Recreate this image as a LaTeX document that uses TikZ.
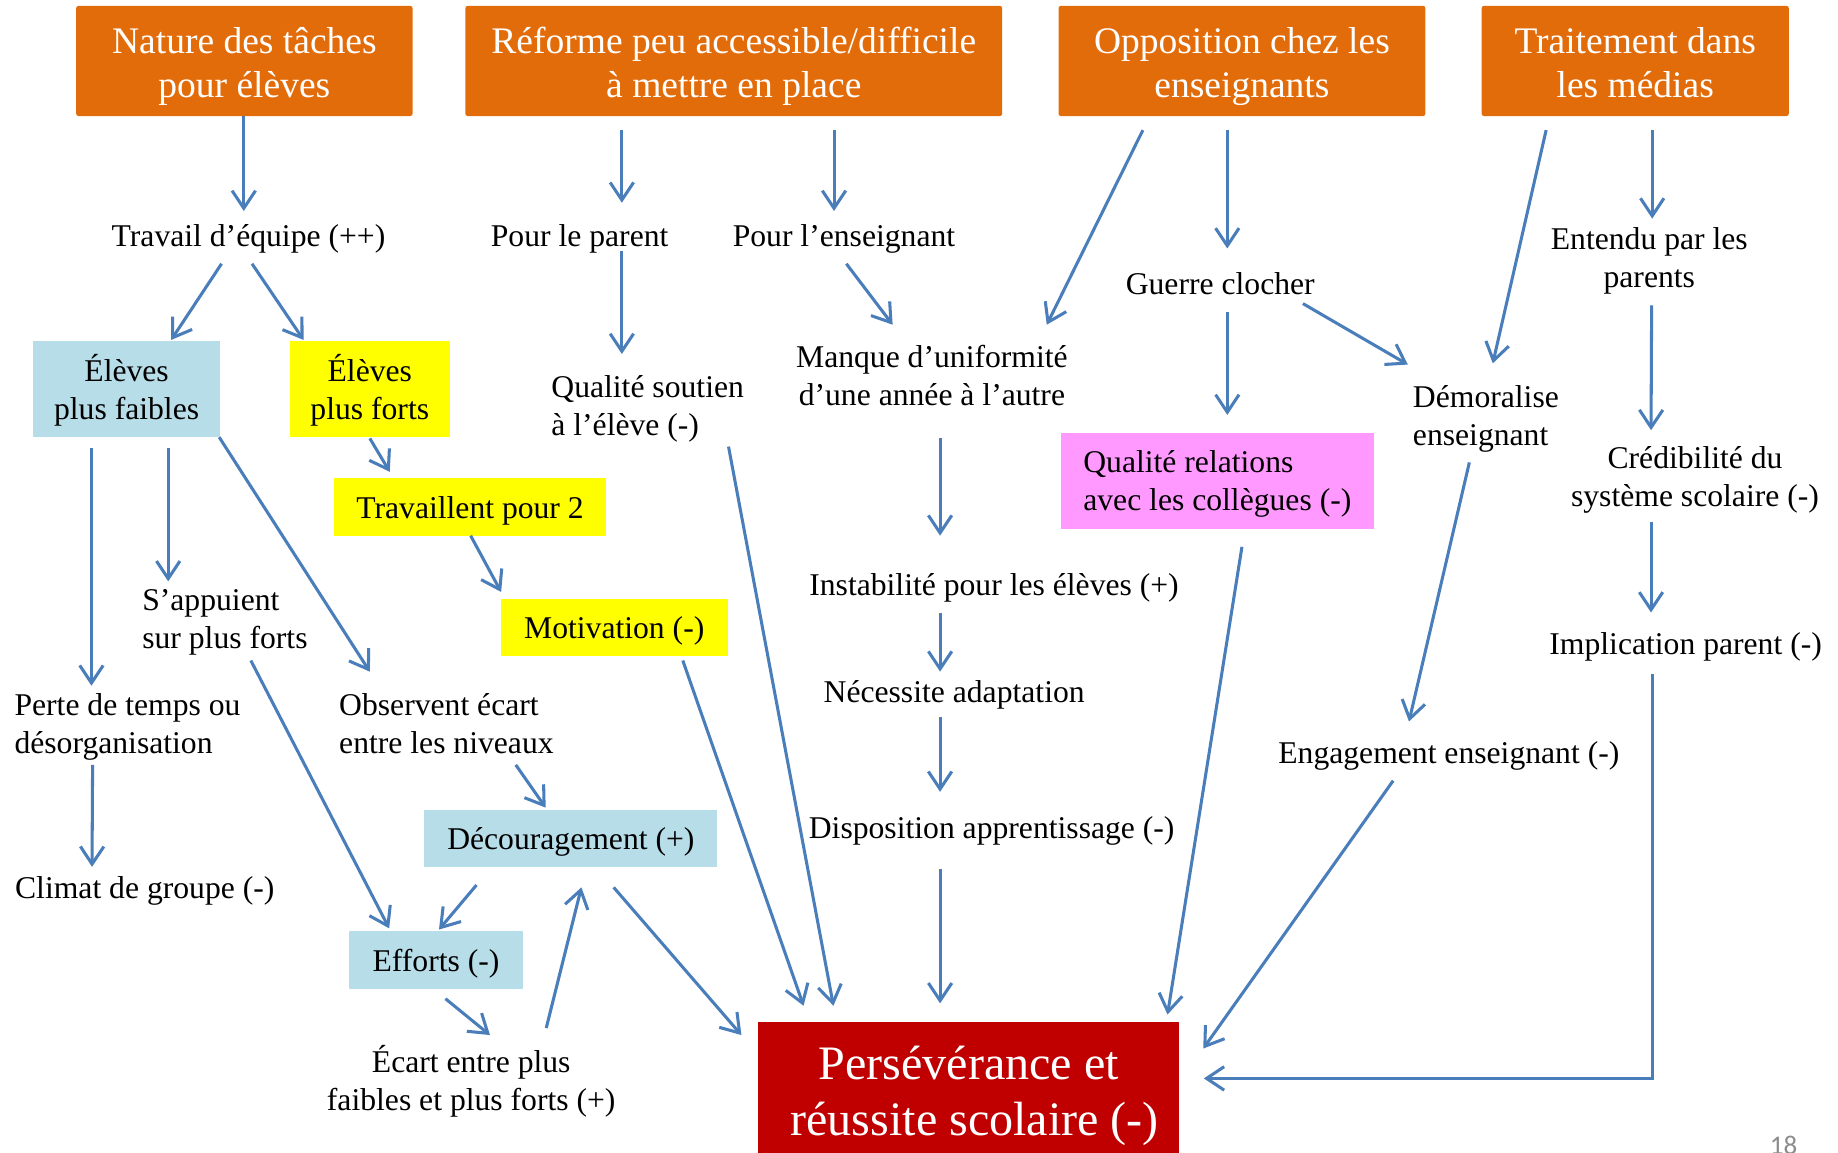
\documentclass[tikz,border=0pt]{standalone}
\usepackage{fontspec}
\setmainfont{Liberation Serif}
\newfontfamily\pgnumfont{Carlito}
\usetikzlibrary{arrows.meta,calc}
\definecolor{orangebox}{HTML}{E36C0A}
\definecolor{lightbluebox}{HTML}{B7DDE8}
\definecolor{yellowbox}{HTML}{FFFF00}
\definecolor{pinkbox}{HTML}{FF99FF}
\definecolor{redbox}{HTML}{C00000}
\definecolor{arrowblue}{HTML}{4A7EBB}
\newcommand{\rsLbl}{\rule{0pt}{12.5pt}}
\newcommand{\rsTop}{\rule{0pt}{17pt}}
\newcommand{\rsDep}{\rule[-4.5pt]{0pt}{4.5pt}}
\newcommand{\rsMain}{\rule{0pt}{18pt}}
\tikzset{
  lbl/.style={font=\fontsize{13.5}{16.2}\selectfont, inner sep=0pt, text=black},
  topbox/.style={fill=orangebox, rounded corners=1pt, text=white, align=center, inner sep=0pt,
    font=\fontsize{16}{19}\selectfont, minimum height=47pt},
  bluebox/.style={lbl, fill=lightbluebox, align=center},
  yellowbx/.style={lbl, fill=yellowbox, align=center},
  pinkbx/.style={lbl, fill=pinkbox, align=left},
  mainbox/.style={fill=redbox, text=white, align=center, inner sep=0pt,
    font=\fontsize{20.5}{24}\selectfont},
  arr/.style={draw=arrowblue, line width=1.3pt, -{Straight Barb[length=7.5pt,width=10pt]}}
}
\begin{document}
\begin{tikzpicture}[x=0.5pt,y=-0.5pt]
\fill[white] (0,0) rectangle (1568,983);
\useasboundingbox (0,0) rectangle (1568,983);

% top boxes
\node[topbox, minimum width=143.5pt] (nat) at (208.5,52) {\rsTop Nature des tâches\\pour élèves\rsDep};
\node[topbox, minimum width=229pt] (ref) at (626,52) {\rsTop Réforme peu accessible/difficile\\à mettre en place\rsDep};
\node[topbox, minimum width=156.5pt] (opp) at (1059.5,52) {\rsTop Opposition chez les\\enseignants\rsDep};
\node[topbox, minimum width=131pt] (med) at (1395,52) {\rsTop Traitement dans\\les médias\rsDep};

% second level
\node[lbl] (trav) at (212,201) {\rsLbl Travail d’équipe (++)};
\node[lbl] (ppar) at (494.5,201) {\rsLbl Pour le parent};
\node[lbl] (pens) at (720,201) {\rsLbl Pour l’enseignant};
\node[lbl] (guer) at (1041,239) {\rsLbl Guerre clocher};
\node[lbl, align=center] (ent) at (1407,219.5) {\rsLbl Entendu par les\\parents};

% third level
\node[bluebox, minimum width=80pt, minimum height=41pt] (fai) at (108,332) {\rsLbl Élèves\\plus faibles};
\node[yellowbx, minimum width=68.5pt, minimum height=41pt] (fort) at (315.5,332) {\rsLbl Élèves\\plus forts};
\node[lbl, align=left, anchor=west] (qsou) at (470,346) {\rsLbl Qualité soutien\\à l’élève (-)};
\node[lbl, align=center] (manq) at (795,320) {Manque d’uniformité\\d’une année à l’autre};
\node[lbl, align=left, anchor=west] (dem) at (1205,354) {\rsLbl Démoralise\\enseignant};
\node[pinkbx, minimum width=133.5pt, minimum height=41pt] (qrel) at (1038.5,410) {\rsLbl Qualité relations\\avec les collègues (-)};
\node[lbl, align=center] (cred) at (1446,406) {\rsLbl Crédibilité du\\système scolaire (-)};

% middle
\node[yellowbx, minimum width=116pt, minimum height=24.5pt] (trv2) at (401,432.5) {\rsLbl Travaillent pour 2};
\node[lbl] (inst) at (848,498.5) {\rsLbl Instabilité pour les élèves (+)};
\node[lbl, align=left, anchor=west] (sapp) at (121,527) {\rsLbl S’appuient\\sur plus forts};
\node[yellowbx, minimum width=97pt, minimum height=24.5pt] (mot) at (524,535.5) {\rsLbl Motivation (-)};
\node[lbl] (impl) at (1438,549) {\rsLbl Implication parent (-)};
\node[lbl] (nec) at (814,590) {\rsLbl Nécessite adaptation};
\node[lbl, align=left, anchor=west] (perte) at (12,617) {\rsLbl Perte de temps ou\\désorganisation};
\node[lbl, align=left, anchor=west] (obs) at (289,617) {Observent écart\\entre les niveaux};
\node[lbl] (eng) at (1236,642) {\rsLbl Engagement enseignant (-)};
\node[bluebox, minimum width=125pt, minimum height=24.5pt] (dec) at (487,715.5) {\rsLbl Découragement (+)};
\node[lbl] (disp) at (846,706) {\rsLbl Disposition apprentissage (-)};
\node[lbl] (clim) at (123.5,757) {\rsLbl Climat de groupe (-)};
\node[bluebox, minimum width=74pt, minimum height=25pt] (eff) at (372,819) {\rsLbl Efforts (-)};
\node[lbl, align=center] (ecart) at (402,922.5) {Écart entre plus\\faibles et plus forts (+)};
\node[mainbox, minimum width=179.5pt, minimum height=59pt] (pers) at (826.5,931) {\rsMain Persévérance et\\\hspace*{5pt}réussite scolaire (-)};

\node[anchor=base, inner sep=0pt, text=black!45, font=\pgnumfont\fontsize{11.5}{13}\selectfont] (pg) at (1521.5,985) {18};

% arrows
\draw[arr] ($(nat)+(-0.5,47)$) -- ($(trav)+(-4,-21)$);
\draw[arr] ($(trav)+(-23,24)$) -- ($(fai)+(38,-42)$);
\draw[arr] ($(trav)+(3,24)$) -- ($(fort)+(-56.5,-42)$);
\draw[arr] ($(ref)+(-95.5,59)$) -- ($(ppar)+(36,-28)$);
\draw[arr] ($(ref)+(85.5,59)$) -- ($(pens)+(-8.5,-21)$);
\draw[arr] ($(ppar)+(36,13)$) -- ($(qsou.west)+(60.5,-44)$);
\draw[arr] ($(pens)+(2,24)$) -- ($(manq)+(-33.5,-43)$);
\draw[arr] ($(opp)+(-84.5,59)$) -- ($(manq)+(98,-43)$);
\draw[arr] ($(opp)+(-12.5,59)$) -- ($(guer)+(6,-27)$);
\draw[arr] ($(guer)+(70.5,20)$) -- ($(dem.west)+(-4,-43)$);
\draw[arr] ($(guer)+(6,27)$) -- ($(qrel)+(8.5,-56)$);
\draw[arr] ($(med)+(-76,59)$) -- ($(dem.west)+(68.5,-44)$);
\draw[arr] ($(med)+(14.5,59)$) -- ($(ent)+(2.5,-33)$);
\draw[arr] ($(ent)+(2,41)$) -- ($(cred)+(-37.5,-39)$);
\draw[arr] ($(cred)+(-37.5,39)$) -- ($(impl)+(-29.5,-26.5)$);
\draw[arr] ($(impl)+(-28.5,26)$) |- ($(pers)+(200.5,-11)$);
\draw[arr] ($(fai)+(-30,50)$) -- ($(perte.west)+(66,-32)$);
\draw[arr] ($(fai)+(35.5,50)$) -- ($(sapp.west)+(22.5,-31)$);
\draw[arr] ($(fai)+(79,41)$) -- ($(obs.west)+(26.5,-44)$);
\draw[arr] ($(fort)+(0,42)$) -- ($(trv2)+(-68.5,-30)$);
\draw[arr] ($(trv2)+(0.5,24.5)$) -- ($(mot)+(-96.5,-30.5)$);
\draw[arr] ($(mot)+(58.5,28)$) -- ($(pers)+(-141,-73)$);
\draw[arr] ($(qsou.west)+(151.5,35)$) -- ($(pers)+(-115.5,-73)$);
\draw[arr] ($(manq)+(7,54)$) -- ($(inst)+(-46,-41.5)$);
\draw[arr] ($(inst)+(-46,24.5)$) -- ($(nec)+(-12,-17)$);
\draw[arr] ($(nec)+(-12,22)$) -- ($(disp)+(-44,-30.5)$);
\draw[arr] ($(disp)+(-44,35.5)$) -- ($(pers)+(-24.5,-75)$);
\draw[arr] ($(qrel)+(21,56.5)$) -- ($(pers)+(169.5,-65.5)$);
\draw[arr] ($(dem.west)+(48.5,40.5)$) -- ($(eng)+(-34,-26.5)$);
\draw[arr] ($(eng)+(-47.5,24)$) -- ($(pers)+(200,-36.5)$);
\draw[arr] ($(sapp.west)+(93,36.5)$) -- ($(eff)+(-40,-27)$);
\draw[arr] ($(perte.west)+(67,35.5)$) -- ($(clim)+(-45,-17.5)$);
\draw[arr] ($(obs.west)+(151,35.5)$) -- ($(dec)+(-21.5,-26.5)$);
\draw[arr] ($(dec)+(-80.5,39.5)$) -- ($(eff)+(2.5,-26)$);
\draw[arr] ($(dec)+(36.5,41.5)$) -- ($(pers)+(-194,-48)$);
\draw[arr] ($(eff)+(8,33)$) -- ($(ecart)+(16,-39.5)$);
\draw[arr] ($(ecart)+(64,-45.5)$) -- ($(dec)+(9,41.5)$);
\end{tikzpicture}
\end{document}
